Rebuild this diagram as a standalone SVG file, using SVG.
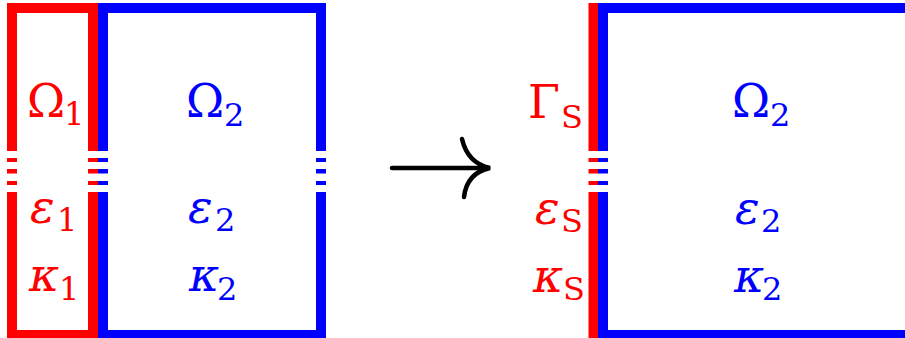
<svg xmlns="http://www.w3.org/2000/svg" width="905" height="338" viewBox="0 0 905 338">
<style>
.r{fill:none;stroke:#ff0000;stroke-width:10;stroke-linejoin:miter;stroke-linecap:butt}
.b{fill:none;stroke:#0000ff;stroke-width:10;stroke-linejoin:miter;stroke-linecap:butt}
text{font-family:"DejaVu Serif",serif}
.big{font-size:46px}
.sub{font-size:32px}
.it{font-style:italic}
.tr{fill:#ff0000}
.tb{fill:#0000ff}
.arr{fill:none;stroke:#000;stroke-width:4.5;stroke-linecap:round}
</style>
<rect width="905" height="338" fill="#fff"/>
<g id="omega1">
<path class="r" d="M12,151V8H93V151M12,192V335H93V192"/>
<path class="r" d="M12,158v4M12,169v4.5M12,181v4M93,158v4M93,169v4.5M93,181v4"/>
<text class="tr big" x="27" y="117">Ω</text>
<text class="tr sub" x="64" y="125">1</text>
<text class="tr big it" x="30" y="223">ε</text>
<text class="tr sub" x="57" y="231">1</text>
<text class="tr big it" x="29" y="291">κ</text>
<text class="tr sub" x="59" y="300">1</text>
</g>
<g id="omega2-left">
<path class="b" d="M103,151V8H321V151M103,192V335H321V192"/>
<path class="b" d="M103,158v4M103,169v4.5M103,181v4M321,158v4M321,169v4.5M321,181v4"/>
<text class="tb big" x="186" y="117">Ω</text>
<text class="tb sub" x="224" y="126">2</text>
<text class="tb big it" x="188" y="223">ε</text>
<text class="tb sub" x="215" y="231">2</text>
<text class="tb big it" x="189" y="291">κ</text>
<text class="tb sub" x="217" y="300">2</text>
</g>
<g id="connectors">
<path class="arr" d="M392,168H488"/>
<path class="arr" d="M462,139C466,156 476,165 490,168C476,171 466,180 464,197"/>
</g>
<g id="gammaS">
<path class="r" d="M593.5,3V151M593.5,192V338"/>
<path class="r" d="M593.5,158v4M593.5,169v4.5M593.5,181v4"/>
<text class="tr big" x="528" y="118">Γ</text>
<text class="tr sub" x="561" y="128">S</text>
<text class="tr big it" x="535" y="224">ε</text>
<text class="tr sub" x="561" y="232">S</text>
<text class="tr big it" x="533" y="292">κ</text>
<text class="tr sub" x="563" y="300">S</text>
</g>
<g id="omega2-right">
<path class="b" d="M603,151V8H915M603,192V335H915"/>
<path class="b" d="M603,158v4M603,169v4.5M603,181v4"/>
<text class="tb big" x="732" y="117">Ω</text>
<text class="tb sub" x="770" y="126">2</text>
<text class="tb big it" x="735" y="224">ε</text>
<text class="tb sub" x="761" y="232">2</text>
<text class="tb big it" x="734" y="292">κ</text>
<text class="tb sub" x="762" y="300">2</text>
</g>
</svg>
